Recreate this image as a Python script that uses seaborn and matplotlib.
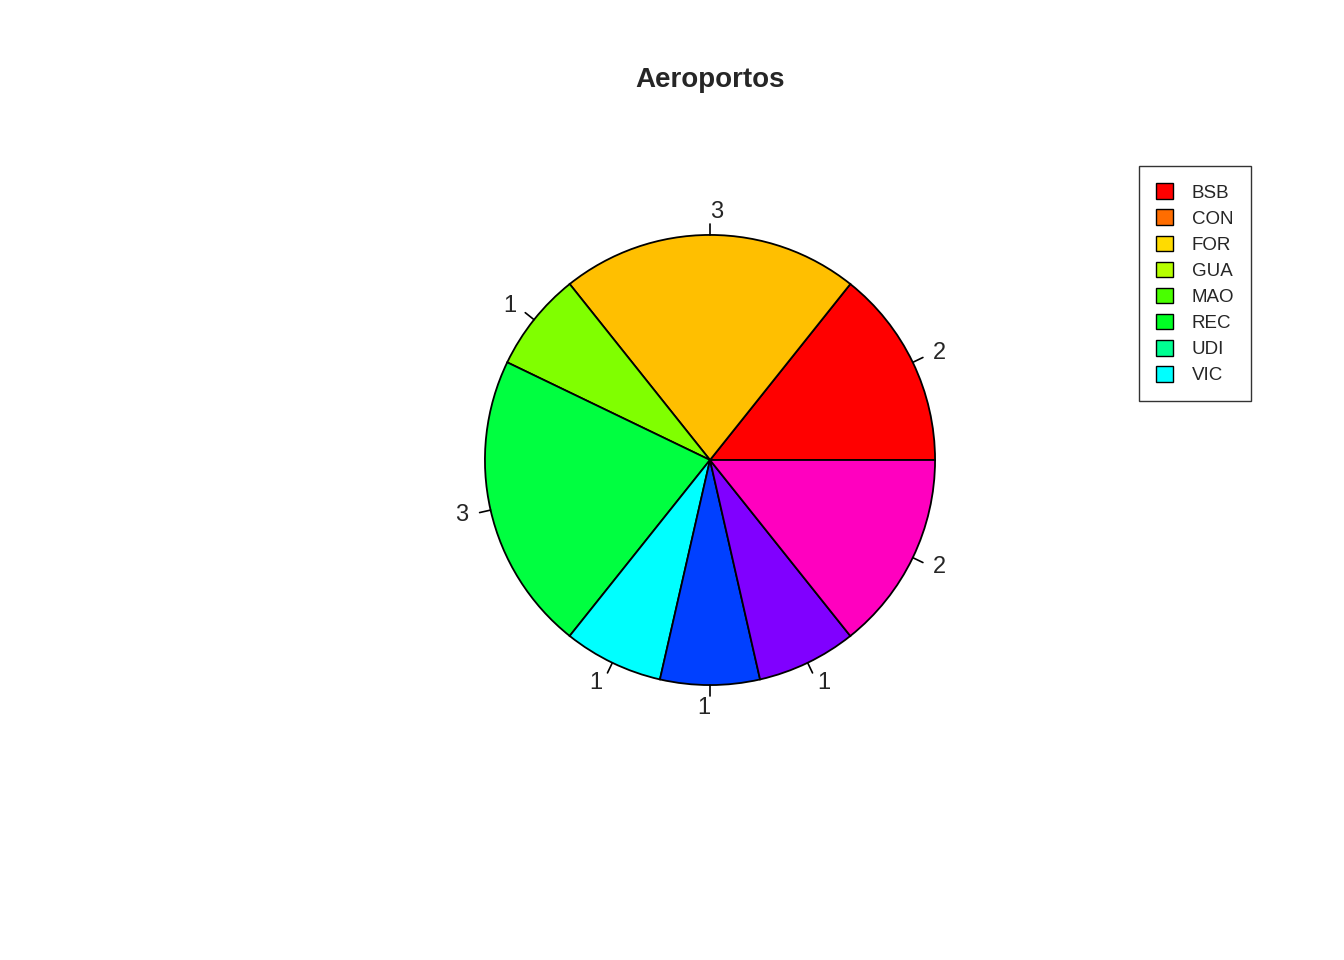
import numpy as np
import matplotlib
matplotlib.use("Agg")
import matplotlib.pyplot as plt
import seaborn as sns

counts = [2, 3, 1, 3, 1, 1, 1, 2]
slice_colors = ["#FF0000", "#FFBF00", "#80FF00", "#00FF40",
                "#00FFFF", "#0040FF", "#8000FF", "#FF00BF"]
legend_labels = ["BSB", "CON", "FOR", "GUA", "MAO", "REC", "UDI", "VIC"]
legend_colors = ["#FF0000", "#FF6D00", "#FFDB00", "#B6FF00",
                 "#49FF00", "#00FF24", "#00FF92", "#00FFFF"]

sns.set_style("white")
plt.rcParams['font.family'] = ['Liberation Sans', 'DejaVu Sans']

fig = plt.figure(figsize=(13.44, 9.6), dpi=100)
ax = fig.add_axes([410 / 1344, 200 / 960, 600 / 1344, 600 / 960])
ax.pie(counts, colors=slice_colors, startangle=0, counterclock=True,
       radius=1, wedgeprops=dict(edgecolor="black", linewidth=1.3))
ax.set_xlim(-1.333, 1.333)
ax.set_ylim(-1.333, 1.333)
ax.set_aspect("equal")
ax.axis("off")

# R-style tick marks and labels at slice midpoints
cum = np.cumsum([0] + counts) / sum(counts)
for i, c in enumerate(counts):
    a = 2 * np.pi * (cum[i] + cum[i + 1]) / 2
    ca, sa = np.cos(a), np.sin(a)
    ax.plot([ca, 1.05 * ca], [sa, 1.05 * sa], color="black", lw=1.2)
    ax.text(1.1 * ca, 1.1 * sa, str(c), fontsize=17,
            ha="left" if ca > 0 else "right", va="center")

fig.text(710 / 1344, 1 - 80 / 960, "Aeroportos", ha="center", va="center",
         fontsize=20, fontweight="bold")

handles = [plt.Rectangle((0, 0), 1, 1, facecolor=c, edgecolor="black")
           for c in legend_colors]
leg = fig.legend(handles, legend_labels, loc="upper left",
                 bbox_to_anchor=(1130 / 1344, 1 - 157 / 960), fontsize=13.5,
                 frameon=True, fancybox=False, edgecolor="black",
                 handlelength=0.9, handleheight=0.9, labelspacing=0.42,
                 borderpad=0.9, handletextpad=1.0)
leg.get_frame().set_linewidth(1.0)

fig.savefig("out.png", dpi=100)
